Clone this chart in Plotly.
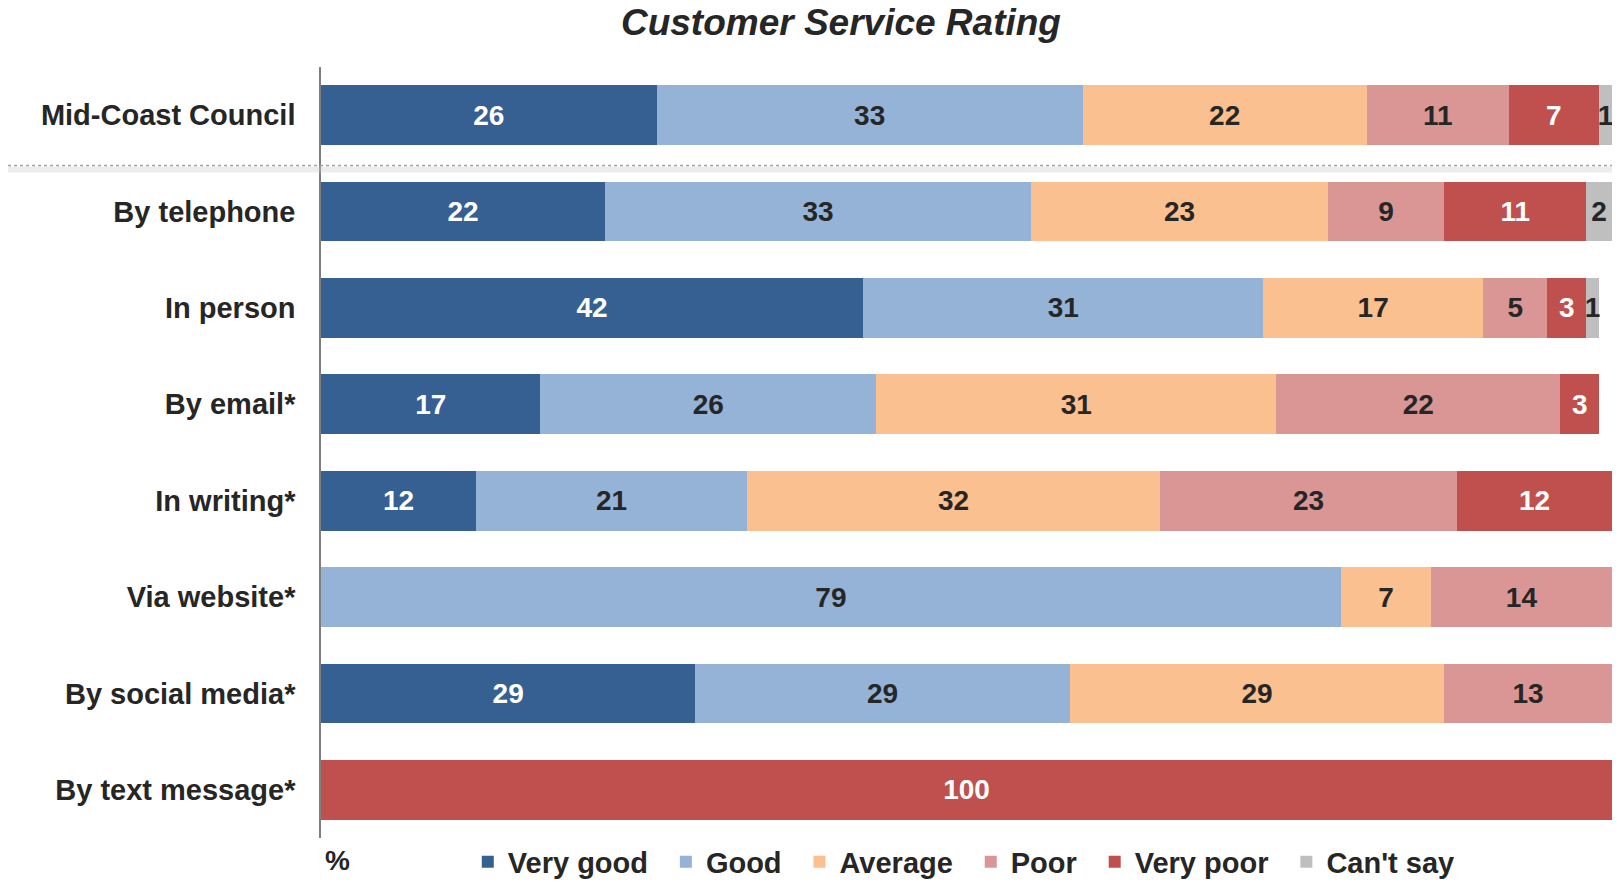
import plotly.graph_objects as go

categories = ["Mid-Coast Council", "By telephone", "In person", "By email*",
              "In writing*", "Via website*", "By social media*", "By text message*"]
series_names = ["Very good", "Good", "Average", "Poor", "Very poor", "Can't say"]
very_good = [26, 22, 42, 17, 12, 0, 29, 0]
good = [33, 33, 31, 26, 21, 79, 29, 0]
average = [22, 23, 17, 31, 32, 7, 29, 0]
poor = [11, 9, 5, 22, 23, 14, 13, 0]
very_poor = [7, 11, 3, 3, 12, 0, 0, 100]
cant_say = [1, 2, 1, 0, 0, 0, 0, 0]
series_values = [very_good, good, average, poor, very_poor, cant_say]

colors = ["#366092", "#95B3D7", "#FAC090", "#D99694", "#C0504D", "#BFBFBF"]
text_colors = ["white", "#262626", "#262626", "#262626", "white", "#262626"]

FONT = "Liberation Sans, Arial, sans-serif"
W, H = 1604, 874  # page body has an 8px margin; keep the page exactly 1620x890

fig = go.Figure()
for i, (name, vals, col, tcol) in enumerate(zip(series_names, series_values, colors, text_colors)):
    pad = "\u00a0\u2006" if i < len(series_names) - 1 else ""
    fig.add_trace(go.Bar(
        y=categories, x=vals, name=name + pad, orientation="h",
        marker=dict(color=col, line=dict(width=0)),
        text=[str(v) if v > 0 else "" for v in vals],
        textposition="inside", insidetextanchor="middle",
        textfont=dict(family=FONT, size=28, color=tcol, weight="bold"),
        cliponaxis=False, hoverinfo="skip",
    ))

fig.update_layout(
    barmode="stack", bargap=0.38,
    width=W, height=H,
    margin=dict(l=313, r=0, t=59, b=44, autoexpand=False),
    plot_bgcolor="white", paper_bgcolor="white",
    uniformtext=dict(minsize=28, mode="show"),
    title=dict(text="Customer Service Rating", x=0.5193, xanchor="center", y=0.999, yanchor="top",
               font=dict(family=FONT, size=37, color="#262626", weight="bold", style="italic")),
    xaxis=dict(range=[0, 100], showticklabels=False, showgrid=False, zeroline=False,
               showline=False, ticks=""),
    yaxis=dict(autorange="reversed", showgrid=False, zeroline=False, showline=True,
               linecolor="#7F7F7F", linewidth=1.5, ticks="", ticklabelstandoff=18,
               tickfont=dict(family=FONT, size=29, color="#262626", weight="bold")),
    legend=dict(orientation="h", x=0.1137, xanchor="left", y=0.002, yanchor="top",
                traceorder="normal",
                font=dict(family=FONT, size=29, color="#262626", weight="bold"),
                itemwidth=30, tracegroupgap=0, bgcolor="rgba(0,0,0,0)"),
    showlegend=True,
)

# separator under the first row (with soft shadow)
fig.add_shape(type="line", xref="paper", yref="y", ysizemode="pixel", yanchor=0.5,
              x0=-0.2424, x1=1.0, y0=-6, y1=-6,
              line=dict(color="rgba(200,200,200,0.35)", width=6), layer="above")
fig.add_shape(type="line", xref="paper", yref="y", ysizemode="pixel", yanchor=0.5,
              x0=-0.2424, x1=1.0, y0=-2, y1=-2,
              line=dict(color="#A0A0A0", width=1.5, dash="dot"), layer="above")

fig.add_annotation(text="%", xref="paper", yref="paper", x=0.0015, y=-0.0298, xanchor="left",
                   yanchor="middle", showarrow=False,
                   font=dict(family=FONT, size=28, color="#262626", weight="bold"))

fig.write_html("out.html")
